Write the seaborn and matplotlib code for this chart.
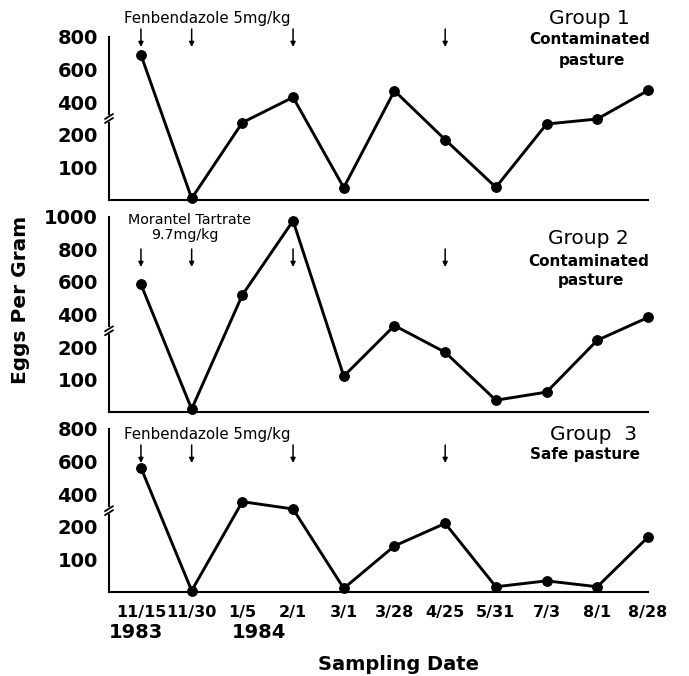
import numpy as np
import pandas as pd
import matplotlib
matplotlib.use("Agg")
import matplotlib.pyplot as plt
import matplotlib.transforms as mtransforms
import seaborn as sns

sns.set_style("white")
plt.rcParams['font.family'] = ['DejaVu Sans']
plt.rcParams['text.color'] = 'black'
plt.rcParams['axes.labelcolor'] = 'black'
plt.rcParams['xtick.color'] = 'black'
plt.rcParams['ytick.color'] = 'black'

dates = ["11/15", "11/30", "1/5", "2/1", "3/1", "3/28", "4/25", "5/31", "7/3", "8/1", "8/28"]
group1 = [690, 5, 275, 430, 38, 470, 185, 39, 266, 297, 472]
group2 = [585, 10, 520, 975, 111, 332, 184, 37, 62, 242, 382]
group3 = [563, 5, 355, 310, 12, 142, 222, 17, 35, 17, 169]
treat_idx = [0, 1, 3, 6]

yticks_small = [100, 200, 400, 600, 800]
yticks_big = [100, 200, 400, 600, 800, 1000]


def fwd(v):
    v = np.asarray(v, dtype=float)
    return np.where(v <= 200, v / 100.0, 2 + (v - 200) / 200.0)


def inv(p):
    p = np.asarray(p, dtype=float)
    return np.where(p <= 2, p * 100.0, 200 + (p - 2) * 200.0)


W, H = 689, 676
fig = plt.figure(figsize=(W / 100, H / 100), dpi=100)

# panel pixel boxes: (top, bottom)
boxes = [(37, 200), (216.7, 412.3), (429, 592.3)]
left_px, right_px = 109, 648
panels = [
    dict(vals=group1, ymax=800, ticks=yticks_small),
    dict(vals=group2, ymax=1000, ticks=yticks_big),
    dict(vals=group3, ymax=800, ticks=yticks_small),
]

xs = np.arange(len(dates))
for i, (p, (top, bot)) in enumerate(zip(panels, boxes)):
    ax = fig.add_axes([left_px / W, 1 - bot / H, (right_px - left_px) / W, (bot - top) / H])
    ax.set_yscale('function', functions=(fwd, inv))
    df = pd.DataFrame({"x": xs, "y": p["vals"]})
    sns.lineplot(data=df, x="x", y="y", ax=ax, color="black", linewidth=2.1,
                 marker="o", markersize=7, markeredgecolor="black", clip_on=False)
    ax.set_xlim(-0.63, 10)
    ax.set_ylim(0, p["ymax"])
    ax.set_yticks(p["ticks"])
    ax.set_yticklabels([str(t) for t in p["ticks"]], fontsize=14, fontweight="bold")
    ax.yaxis.set_minor_locator(matplotlib.ticker.NullLocator())
    ax.set_xticks(xs)
    if i == 2:
        ax.set_xticklabels(dates, fontsize=11.5, fontweight="bold")
        lab0 = ax.get_xticklabels()[0]
        lab0.set_transform(lab0.get_transform() +
                           mtransforms.ScaledTranslation(-8 / 100, 0, fig.dpi_scale_trans))
    else:
        ax.set_xticklabels([])
    ax.tick_params(axis='x', direction='out', length=5, width=1.3, color='black', pad=4)
    ax.tick_params(axis='y', direction='in', length=3, width=1.3, color='black', pad=8)
    ax.set_xlabel("")
    ax.set_ylabel("")
    for s in ["top", "right"]:
        ax.spines[s].set_visible(False)
    for s in ["left", "bottom"]:
        ax.spines[s].set_color("black")
        ax.spines[s].set_linewidth(1.5)
    ax.grid(False)

    # axis break marks at value 300
    trans = mtransforms.blended_transform_factory(ax.transAxes, ax.transData)
    pb = float(fwd(300))
    hpx = (bot - top)
    upp = float(fwd(p["ymax"])) / hpx
    dx = 4.0 / (right_px - left_px)
    ax.plot([0, 0], [inv(pb - 1.6 * upp), inv(pb + 1.6 * upp)],
            transform=trans, color="white", lw=3, clip_on=False, zorder=5)
    for off in (-2.0, 2.0):
        yc = pb + off * upp
        ax.plot([-dx, dx], [inv(yc - 2.5 * upp), inv(yc + 2.5 * upp)],
                transform=trans, color="black", lw=1.3, clip_on=False, zorder=6)

    # treatment arrows (pixel positions converted to axes fraction)
    arrow_px = [(29, 47), (249, 267), (445, 463)][i]
    y0 = (bot - arrow_px[0]) / hpx
    y1 = (bot - arrow_px[1]) / hpx
    for t in treat_idx:
        ax.annotate("", xy=(t, y1), xytext=(t, y0), xycoords=('data', 'axes fraction'),
                    textcoords=('data', 'axes fraction'), annotation_clip=False,
                    arrowprops=dict(arrowstyle='-|>', lw=1.1, color='black',
                                    mutation_scale=7, shrinkA=0, shrinkB=0))

# drug labels
fig.text(207 / W, 1 - 18 / H, "Fenbendazole 5mg/kg", ha="center", va="center", fontsize=10.8)
fig.text(190 / W, 1 - 220 / H, "Morantel Tartrate", ha="center", va="center", fontsize=10.3)
fig.text(185 / W, 1 - 235.5 / H, "9.7mg/kg", ha="center", va="center", fontsize=10.3)
fig.text(207 / W, 1 - 434 / H, "Fenbendazole 5mg/kg", ha="center", va="center", fontsize=10.8)

# group labels
fig.text(589 / W, 1 - 18 / H, "Group 1", ha="center", va="center", fontsize=14.5)
fig.text(590 / W, 1 - 40 / H, "Contaminated", ha="center", va="center", fontsize=11, fontweight="bold")
fig.text(592 / W, 1 - 61 / H, "pasture", ha="center", va="center", fontsize=11, fontweight="bold")
fig.text(588 / W, 1 - 239 / H, "Group 2", ha="center", va="center", fontsize=14.5)
fig.text(589 / W, 1 - 261 / H, "Contaminated", ha="center", va="center", fontsize=11, fontweight="bold")
fig.text(591 / W, 1 - 281 / H, "pasture", ha="center", va="center", fontsize=11, fontweight="bold")
fig.text(593 / W, 1 - 434 / H, "Group  3", ha="center", va="center", fontsize=14.5)
fig.text(585 / W, 1 - 454 / H, "Safe pasture", ha="center", va="center", fontsize=11, fontweight="bold")

# years
fig.text(136 / W, 1 - 632 / H, "1983", ha="center", va="center", fontsize=14, fontweight="bold")
fig.text(259 / W, 1 - 632 / H, "1984", ha="center", va="center", fontsize=14, fontweight="bold")

# axis titles
fig.text(398 / W, 1 - 664 / H, "Sampling Date", ha="center", va="center", fontsize=14, fontweight="bold")
fig.text(21 / W, 1 - 300 / H, "Eggs Per Gram", ha="center", va="center", rotation=90,
         fontsize=14.5, fontweight="bold")

fig.savefig("out.png", dpi=100)
